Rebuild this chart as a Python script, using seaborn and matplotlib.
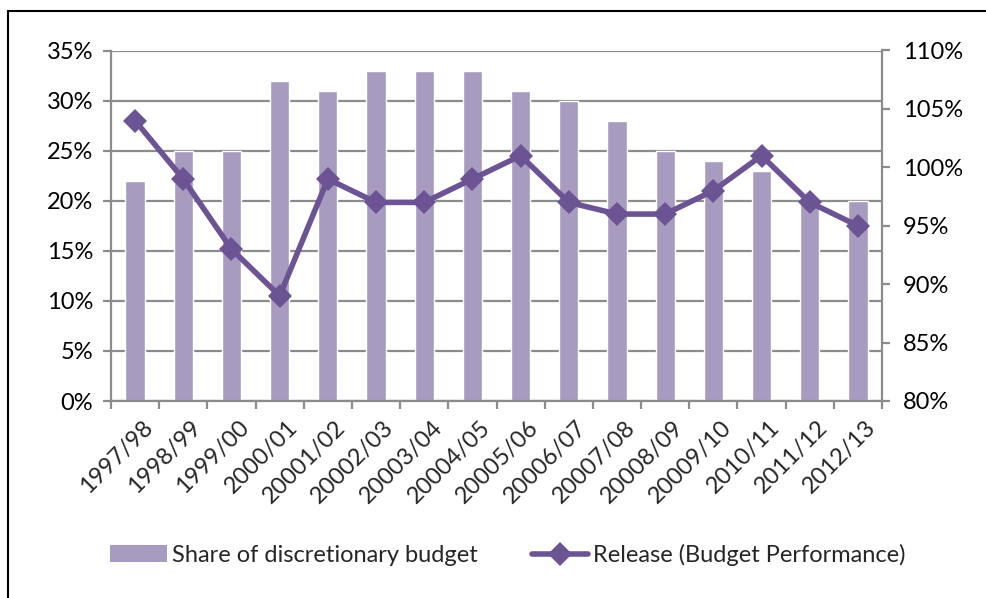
import matplotlib
matplotlib.use("Agg")
import matplotlib.pyplot as plt
from matplotlib.lines import Line2D
from matplotlib.patches import Patch
from matplotlib.ticker import PercentFormatter, FixedLocator
import seaborn as sns
import pandas as pd
import numpy as np

years = ["1997/98", "1998/99", "1999/00", "2000/01", "20001/02", "20002/03",
         "20003/04", "20004/05", "20005/06", "20006/07", "20007/08", "20008/09",
         "20009/10", "2010/11", "2011/12", "2012/13"]
share_budget = [22, 25, 25, 32, 31, 33, 33, 33, 31, 30, 28, 25, 24, 23, 20, 20]
release_perf = [104, 99, 93, 89, 99, 97, 97, 99, 101, 97, 96, 96, 98, 101, 97, 95]

bar_color = "#A89BC0"
line_color = "#6B5394"
grid_color = "#8C8C8C"
font_size = 17

sns.set_theme(style="white")
plt.rcParams["font.family"] = ["Lato", "DejaVu Sans"]

df = pd.DataFrame({"year": years, "share": share_budget, "release": release_perf})
df["pos"] = np.arange(len(df))

fig = plt.figure(figsize=(9.86, 5.98), dpi=100)
ax = fig.add_axes([111 / 986, 1 - 401 / 598, (882 - 111) / 986, (401 - 50.5) / 598])

sns.barplot(data=df, x="year", y="share", color=bar_color, width=0.4,
            saturation=1, ax=ax, zorder=2)
ax.set_ylim(0, 35)
ax.set_xlim(-0.5, len(years) - 0.5)
ax.yaxis.set_major_locator(FixedLocator(np.arange(0, 36, 5)))
ax.yaxis.set_major_formatter(PercentFormatter(decimals=0))
ax.grid(axis="y", color=grid_color, linewidth=1.6, zorder=0)
ax.set_axisbelow(True)
ax.set_xlabel("")
ax.set_ylabel("")

ax2 = ax.twinx()
sns.lineplot(data=df, x="pos", y="release", color=line_color, linewidth=4,
             marker="D", markersize=12, markeredgewidth=0, ax=ax2, zorder=3)
ax2.set_ylim(80, 110)
ax2.set_xlim(-0.5, len(years) - 0.5)
ax2.yaxis.set_major_locator(FixedLocator(np.arange(80, 111, 5)))
ax2.yaxis.set_major_formatter(PercentFormatter(decimals=0))
ax2.set_ylabel("")
ax2.set_xlabel("")
ax2.grid(False)

for a in (ax, ax2):
    a.spines["top"].set_visible(False)
    for side in ("left", "right", "bottom"):
        a.spines[side].set_color(grid_color)
        a.spines[side].set_linewidth(1.6)

ax.spines["right"].set_visible(False)
ax2.spines["left"].set_visible(False)
ax2.spines["bottom"].set_visible(False)

ax.tick_params(axis="y", left=True, length=6, width=1.6, color=grid_color,
               labelsize=font_size, pad=7, labelcolor="black")
ax2.tick_params(axis="y", right=True, length=6, width=1.6, color=grid_color,
                labelsize=font_size, pad=9, labelcolor="black")

# category labels centred on bars, tick marks at category boundaries
ax.set_xticks(np.arange(len(years)))
ax.set_xticklabels(years, rotation=45, ha="right", rotation_mode="anchor",
                   fontsize=font_size)
ax.tick_params(axis="x", which="major", bottom=False, pad=4)
ax.set_xticks(np.arange(-0.5, len(years)), minor=True)
ax.tick_params(axis="x", which="minor", bottom=True, length=6, width=1.6,
               color=grid_color)
for lbl in ax.get_xticklabels():
    lbl.set_transform(lbl.get_transform() +
                      matplotlib.transforms.ScaledTranslation(7 / 100, -2 / 100, fig.dpi_scale_trans))

handles = [Patch(facecolor=bar_color, edgecolor="none"),
           Line2D([0], [0], color=line_color, linewidth=4, marker="D",
                  markersize=12, markeredgewidth=0)]
fig.legend(handles, ["Share of discretionary budget", "Release (Budget Performance)"],
           loc="center", bbox_to_anchor=(0.515, 1 - 555 / 598), ncol=2,
           frameon=False, fontsize=font_size, handlelength=2.4, handleheight=0.75,
           handletextpad=0.2, columnspacing=2.3)

# outer chart frame
fig.add_artist(Line2D([8 / 986, 1.0], [1 - 11 / 598, 1 - 11 / 598],
                      transform=fig.transFigure, color="black", linewidth=1.5))
fig.add_artist(Line2D([8 / 986, 8 / 986], [0.0, 1 - 11 / 598],
                      transform=fig.transFigure, color="black", linewidth=1.5))

fig.savefig("out.png", dpi=100, facecolor="white")
